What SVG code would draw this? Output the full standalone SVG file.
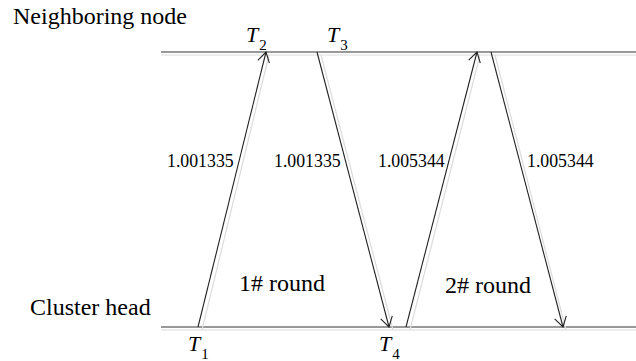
<svg xmlns="http://www.w3.org/2000/svg" width="636" height="361" viewBox="0 0 636 361" font-family="'Liberation Serif', 'Times New Roman', 'DejaVu Serif', serif">
<style>
text{fill:#000}
.big{font-size:24px}
.num{font-size:17.8px}
.t{font-size:22px;font-style:italic}
.sub{font-size:15px;font-style:normal}
.ln{stroke:#222;stroke-width:1.1;fill:none}
.sh{stroke:#dcdcdc;stroke-width:1.2;fill:none}
</style>
<defs>
<marker id="ah" markerUnits="userSpaceOnUse" markerWidth="24" markerHeight="24" refX="12" refY="12" orient="auto" viewBox="0 0 24 24">
<path d="M2,6 L12,12 L2,18" fill="none" stroke="#222" stroke-width="1.1"/>
</marker>
</defs>
<g id="timelines">
<line class="sh" x1="161" y1="55" x2="636" y2="55"/>
<line x1="161" y1="52" x2="636" y2="52" stroke="#777" stroke-width="1.3"/>
<line class="sh" x1="161" y1="330" x2="636" y2="330"/>
<line x1="161" y1="327" x2="636" y2="327" stroke="#333" stroke-width="1.2"/>
</g>
<g id="connectors">
<line class="sh" x1="202" y1="330" x2="269" y2="55"/>
<line class="sh" x1="321" y1="55" x2="393" y2="330"/>
<line class="sh" x1="410" y1="330" x2="480" y2="55"/>
<line class="sh" x1="495" y1="55" x2="566" y2="330"/>
<line class="ln" x1="198" y1="327" x2="266" y2="52" marker-end="url(#ah)"/>
<line class="ln" x1="317" y1="52" x2="389" y2="327" marker-end="url(#ah)"/>
<line class="ln" x1="406" y1="327" x2="477" y2="52" marker-end="url(#ah)"/>
<line class="ln" x1="491" y1="52" x2="563" y2="327" marker-end="url(#ah)"/>
</g>
<g id="neighboring-node"><text class="big" x="13" y="24">Neighboring node</text></g>
<g id="cluster-head"><text class="big" x="30" y="315">Cluster head</text></g>
<g id="round1"><text class="big" x="239" y="291">1# round</text></g>
<g id="round2"><text class="big" x="445" y="293">2# round</text></g>
<g id="labels">
<text class="num" x="167" y="167">1.001335</text>
<text class="num" x="274" y="167">1.001335</text>
<text class="num" x="378" y="167">1.005344</text>
<text class="num" x="527" y="167">1.005344</text>
</g>
<g id="times">
<text class="t" x="246" y="42">T<tspan class="sub" dx="1" dy="8">2</tspan></text>
<text class="t" x="327" y="42">T<tspan class="sub" dx="1" dy="8">3</tspan></text>
<text class="t" x="188" y="351">T<tspan class="sub" dx="1" dy="8">1</tspan></text>
<text class="t" x="379" y="351">T<tspan class="sub" dx="1" dy="8">4</tspan></text>
</g>
</svg>
